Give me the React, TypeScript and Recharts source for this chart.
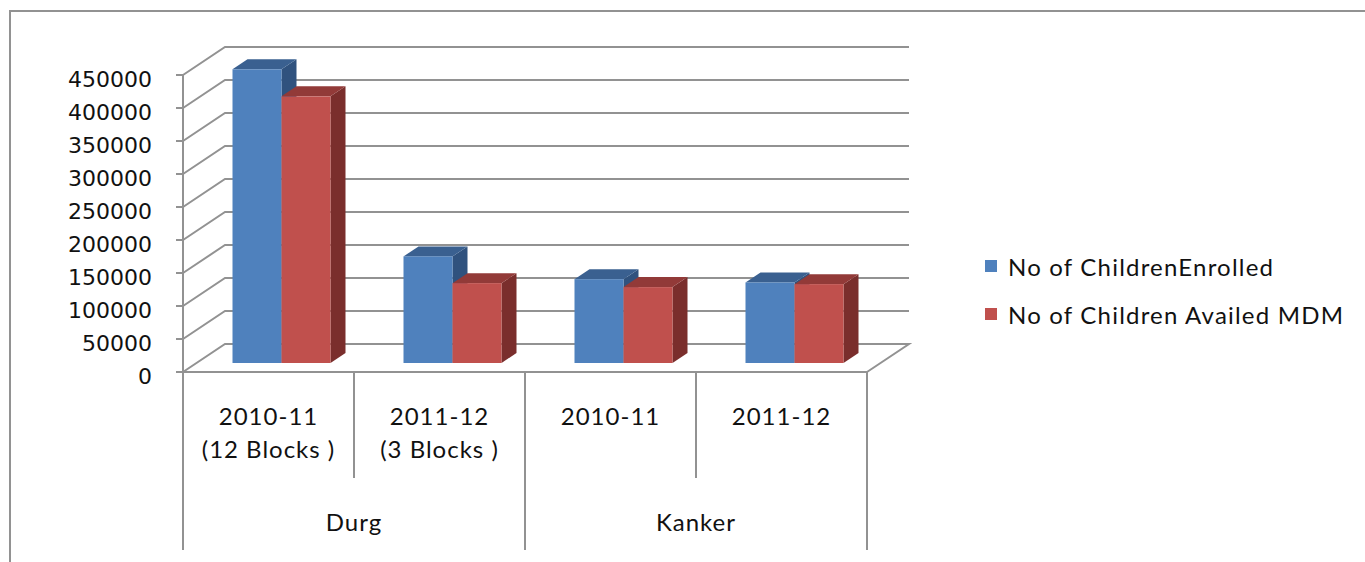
import React from 'react';
import { BarChart, Bar, XAxis, YAxis, CartesianGrid, Legend } from 'recharts';

// ---- data ----
const periods = ['2010-11', '2011-12', '2010-11', '2011-12'];
const blockNotes = ['(12 Blocks )', '(3 Blocks )', '', ''];
const districts = ['Durg', 'Durg', 'Kanker', 'Kanker'];
const enrolled = [445000, 161500, 127000, 122000];
const availed = [404000, 121000, 115000, 119500];
const yTicks = [0, 50000, 100000, 150000, 200000, 250000, 300000, 350000, 400000, 450000];
const seriesNames = ['No of ChildrenEnrolled', 'No of Children Availed MDM'];

const data = periods.map((p, i) => ({
  period: p,
  district: districts[i],
  enrolled: enrolled[i],
  availed: availed[i],
}));

// ---- 3D geometry ----
const DX = 42;
const DY = -28;
const BX = 13;
const BY = -9;
const SX = 15;
const SY = -10;
const GRID = '#929292';
const TEXT = '#111';

const makeShape = (front: string, top: string, side: string) => (props: any) => {
  const { x, y, width, height } = props;
  if (x == null || y == null || !width || height == null) return null;
  const fx = x + BX;
  const fy = y + BY;
  const topPts = `${fx},${fy} ${fx + SX},${fy + SY} ${fx + width + SX},${fy + SY} ${fx + width},${fy}`;
  const sidePts = `${fx + width},${fy} ${fx + width + SX},${fy + SY} ${fx + width + SX},${fy + height + SY} ${fx + width},${fy + height}`;
  return (
    <g>
      <polygon points={sidePts} fill={side} />
      <polygon points={topPts} fill={top} />
      <rect x={fx} y={fy} width={width} height={height} fill={front} />
    </g>
  );
};

const gridLine = (p: any) => {
  const { x1, y1, x2 } = p;
  const bottom = p.y != null && p.height != null ? p.y + p.height : 372;
  let d = `M${x1},${y1} L${x1 + DX},${y1 + DY} L${x2 + DX},${y1 + DY}`;
  if (Math.abs(y1 - bottom) < 1) d += ` L${x2},${y1}`;
  return <path key={p.key ?? `g-${p.index}`} d={d} fill="none" stroke={GRID} strokeWidth={2} />;
};

const labelStyle = { fontFamily: 'Lato', fontSize: 24, fill: TEXT, letterSpacing: 1 };

const PeriodTick = (props: any) => {
  const { x, y, payload, index, visibleTicksCount, width } = props;
  const half = payload && payload.offset ? payload.offset : (width / (visibleTicksCount || 4)) / 2;
  const left = x - half;
  const right = x + half;
  const isEven = index % 2 === 0;
  const isLast = index === (visibleTicksCount || 4) - 1;
  return (
    <g>
      <line x1={left} y1={y} x2={left} y2={y + (isEven ? 178 : 106)} stroke={GRID} strokeWidth={2} />
      {isLast && <line x1={right} y1={y} x2={right} y2={y + 178} stroke={GRID} strokeWidth={2} />}
      <text x={x} y={y + 43} textAnchor="middle" dominantBaseline="central" {...labelStyle}>
        {payload.value}
      </text>
      {blockNotes[index] && (
        <text x={x} y={y + 76} textAnchor="middle" dominantBaseline="central" {...labelStyle}>
          {blockNotes[index]}
        </text>
      )}
    </g>
  );
};

const DistrictTick = (props: any) => {
  const { x, y, payload, index, visibleTicksCount, width } = props;
  if (index % 2 !== 0) return <g />;
  const half = payload && payload.offset ? payload.offset : (width / (visibleTicksCount || 4)) / 2;
  return (
    <text x={x + half} y={y + 43} textAnchor="middle" dominantBaseline="central" {...labelStyle}>
      {payload.value}
    </text>
  );
};

const LegendContent = (props: any) => {
  const items = [...(props.payload || [])].sort(
    (a: any, b: any) => seriesNames.indexOf(a.value) - seriesNames.indexOf(b.value)
  );
  return (
    <div style={{ fontFamily: 'Lato', fontSize: 24, letterSpacing: 1.2, color: TEXT }}>
      {items.map((e: any, i: number) => (
        <div key={i} style={{ display: 'flex', alignItems: 'center', height: 48, whiteSpace: 'nowrap' }}>
          <span style={{ display: 'inline-block', width: 12, height: 12, background: e.color, marginRight: 11 }} />
          <span>{e.value}</span>
        </div>
      ))}
    </div>
  );
};

export default function App() {
  return (
    <div style={{ position: 'absolute', left: 0, top: 0, width: 1365, height: 562, overflow: 'hidden', background: '#fff' }}>
      <div
        style={{
          position: 'absolute',
          left: 9,
          top: 10,
          width: 1400,
          height: 600,
          borderLeft: `2px solid ${GRID}`,
          borderTop: `2px solid ${GRID}`,
        }}
      />
      <div style={{ position: 'absolute', left: 0, top: 0 }}>
        <BarChart
          width={1365}
          height={562}
          data={data}
          margin={{ top: 75, right: 498, bottom: 12, left: 23 }}
          barCategoryGap={36.5}
          barGap={0}
        >
          <CartesianGrid xAxisId="a" vertical={false} horizontal={gridLine as any} stroke={GRID} />
          <XAxis
            xAxisId="a"
            dataKey="period"
            interval={0}
            height={106}
            tickSize={0}
            tickMargin={0}
            axisLine={{ stroke: GRID, strokeWidth: 2 }}
            tickLine={false}
            tick={<PeriodTick />}
          />
          <XAxis
            xAxisId="b"
            dataKey="district"
            interval={0}
            height={72}
            tickSize={0}
            tickMargin={0}
            axisLine={false}
            tickLine={false}
            tick={<DistrictTick />}
          />
          <YAxis
            width={160}
            domain={[0, 450000]}
            ticks={yTicks}
            interval={0}
            tickSize={7}
            tickMargin={24}
            axisLine={{ stroke: GRID, strokeWidth: 2 }}
            tickLine={{ stroke: GRID, strokeWidth: 2 }}
            tick={{ fontFamily: 'DejaVu Sans', fontSize: 22, fill: TEXT, dy: 4 }}
          />
          <Legend
            layout="vertical"
            align="center"
            verticalAlign="middle"
            wrapperStyle={{ left: 985, top: 242, width: 380 }}
            content={<LegendContent />}
          />
          <Bar
            xAxisId="a"
            dataKey="enrolled"
            name={seriesNames[0]}
            fill="#4F81BD"
            legendType="square"
            isAnimationActive={false}
            shape={makeShape('#4F81BD', '#3A6090', '#30527E')}
          />
          <Bar
            xAxisId="a"
            dataKey="availed"
            name={seriesNames[1]}
            fill="#C0504D"
            legendType="square"
            isAnimationActive={false}
            shape={makeShape('#C0504D', '#923A38', '#7A2E2C')}
          />
        </BarChart>
      </div>
    </div>
  );
}
